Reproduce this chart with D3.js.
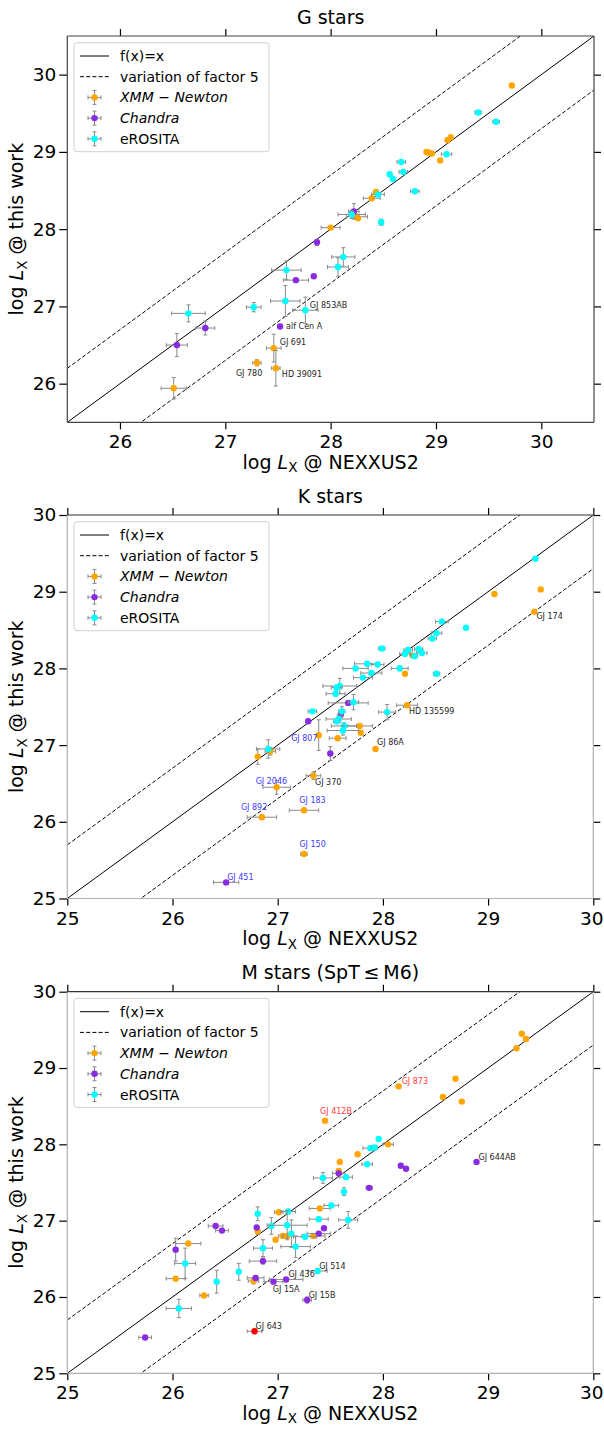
<!DOCTYPE html>
<html>
<head>
<meta charset="utf-8">
<script src="https://cdn.jsdelivr.net/npm/d3@7"></script>
<style>
body { margin: 0; background: #fff; }
svg { display: block; font-family: "DejaVu Sans", sans-serif; }
</style>
</head>
<body>
<svg id="chart" width="604" height="1430"></svg>
<script>
// each point: [log Lx NEXXUS2, log Lx this work, xerr, yerr]
const G_XMM = [
    [29.72, 29.86, 0, 0], [29.14, 29.19, 0, 0], [29.11, 29.15, 0, 0],
    [28.91, 29.00, 0, 0], [28.93, 28.99, 0, 0], [28.96, 28.98, 0, 0],
    [29.04, 28.89, 0, 0], [28.43, 28.48, 0, 0], [28.39, 28.40, 0.08, 0],
    [28.25, 28.16, 0.10, 0], [28.26, 28.14, 0, 0], [28.00, 28.02, 0.09, 0],
    [27.46, 26.46, 0.07, 0.18], [27.30, 26.27, 0.04, 0.04],
    [27.48, 26.20, 0.04, 0.23], [26.51, 25.94, 0.12, 0.14]
];
const G_CHANDRA = [
    [28.22, 28.23, 0.05, 0.10], [27.87, 27.83, 0, 0.04], [27.84, 27.39, 0, 0],
    [27.67, 27.34, 0.12, 0], [27.52, 26.74, 0, 0], [26.81, 26.72, 0.09, 0.09],
    [26.54, 26.50, 0.10, 0.15]
];
const G_EROSITA = [
    [29.40, 29.51, 0.03, 0.02], [29.57, 29.39, 0.03, 0.01], [29.10, 28.97, 0.05, 0.02],
    [28.67, 28.87, 0.04, 0.02], [28.69, 28.74, 0.04, 0.03], [28.56, 28.71, 0.02, 0.02],
    [28.59, 28.65, 0.02, 0.02], [28.80, 28.49, 0.04, 0.02], [28.45, 28.45, 0.06, 0.02],
    [28.20, 28.19, 0.13, 0.05], [28.48, 28.09, 0.02, 0.04], [28.12, 27.64, 0.11, 0.12],
    [28.07, 27.51, 0.10, 0.12], [27.58, 27.47, 0.14, 0.12], [27.57, 27.07, 0.14, 0.20],
    [27.76, 26.95, 0.12, 0.17], [27.27, 26.99, 0.07, 0.06], [26.65, 26.91, 0.16, 0.11]
];
const G_NOTES = [
    ["GJ 853AB", 27.76, 26.95], ["alf Cen A", 27.52, 26.74], ["GJ 691", 27.46, 26.46],
    ["GJ 780", 27.30, 26.27], ["HD 39091", 27.48, 26.20]
];

const K_XMM = [
    [29.06, 28.97, 0, 0], [29.50, 29.03, 0, 0], [29.44, 28.74, 0, 0],
    [28.28, 28.17, 0, 0], [28.21, 27.93, 0, 0], [28.23, 27.52, 0.10, 0],
    [27.78, 27.25, 0.12, 0], [27.79, 27.16, 0, 0], [27.39, 27.13, 0, 0.20],
    [27.57, 27.09, 0.08, 0], [27.93, 26.95, 0, 0], [26.81, 26.85, 0, 0.10],
    [26.93, 26.92, 0.05, 0.05], [27.34, 26.60, 0.07, 0.05], [26.99, 26.45, 0.13, 0.09],
    [26.85, 26.06, 0.14, 0.03], [27.25, 26.15, 0.14, 0], [27.25, 25.58, 0.03, 0.03]
];
const K_CHANDRA = [
    [27.67, 27.55, 0.19, 0], [27.60, 27.40, 0, 0.05], [27.29, 27.31, 0, 0],
    [27.50, 26.89, 0, 0.09], [26.51, 25.21, 0.12, 0]
];
const K_EROSITA = [
    [29.45, 29.43, 0, 0], [28.56, 28.61, 0.06, 0.02], [28.51, 28.46, 0.05, 0.02],
    [28.47, 28.39, 0.04, 0.03], [28.79, 28.53, 0, 0], [27.99, 28.26, 0.03, 0.02],
    [28.24, 28.24, 0.04, 0.03], [28.34, 28.25, 0.04, 0.02], [28.21, 28.19, 0.05, 0.03],
    [28.37, 28.20, 0.05, 0.02], [28.30, 28.16, 0.03, 0.02], [27.85, 28.06, 0.12, 0.02],
    [27.95, 28.05, 0.06, 0.02], [27.74, 28.00, 0.12, 0.02], [28.16, 28.00, 0.08, 0.03],
    [27.89, 27.94, 0.10, 0.02], [27.81, 27.88, 0.09, 0.02], [28.51, 27.93, 0.03, 0.03],
    [27.59, 27.77, 0.16, 0.10], [27.56, 27.75, 0.05, 0.03], [27.55, 27.67, 0.09, 0.03],
    [27.72, 27.56, 0.05, 0.10], [27.33, 27.44, 0.04, 0.02], [27.61, 27.44, 0.03, 0.06],
    [28.04, 27.43, 0.08, 0.10], [27.58, 27.34, 0.12, 0.05], [27.56, 27.31, 0.03, 0.03],
    [27.63, 27.25, 0.12, 0.04], [27.62, 27.19, 0.15, 0.06], [26.91, 26.95, 0.11, 0.12]
];
const K_NOTES = [
    ["GJ 174", 29.44, 28.74], ["HD 135599", 28.23, 27.52], ["GJ 86A", 27.93, 26.95],
    ["GJ 807", 27.39, 27.13], ["GJ 370", 27.34, 26.60], ["GJ 2046", 26.99, 26.45],
    ["GJ 892", 26.85, 26.06], ["GJ 183", 27.25, 26.15], ["GJ 150", 27.25, 25.58],
    ["GJ 451", 26.51, 25.21]
];

const M_XMM = [
    [29.32, 29.45, 0, 0], [29.36, 29.38, 0, 0], [29.27, 29.26, 0, 0],
    [28.15, 28.76, 0, 0], [28.69, 28.86, 0, 0], [28.57, 28.62, 0, 0],
    [28.75, 28.56, 0, 0], [27.45, 28.31, 0, 0], [28.05, 28.00, 0.05, 0],
    [27.76, 27.87, 0, 0], [27.59, 27.77, 0, 0], [27.58, 27.65, 0, 0],
    [27.40, 27.16, 0.10, 0], [27.01, 27.11, 0.04, 0], [26.81, 26.86, 0, 0.04],
    [27.05, 26.80, 0.04, 0], [27.09, 26.80, 0.04, 0], [26.98, 26.75, 0, 0],
    [27.34, 26.80, 0.11, 0], [26.15, 26.70, 0.12, 0], [26.03, 26.24, 0.09, 0],
    [26.77, 26.21, 0.05, 0.04], [26.30, 26.02, 0.04, 0]
];
const M_CHANDRA = [
    [27.58, 27.62, 0.06, 0], [28.17, 27.72, 0, 0], [28.22, 27.68, 0, 0],
    [27.87, 27.43, 0.03, 0], [28.89, 27.77, 0, 0], [26.41, 26.93, 0.07, 0],
    [26.47, 26.87, 0.06, 0], [26.80, 26.91, 0, 0], [27.44, 26.90, 0, 0],
    [27.39, 26.83, 0.11, 0], [26.03, 26.62, 0, 0.15], [26.86, 26.47, 0.13, 0.04],
    [26.79, 26.25, 0.08, 0], [27.08, 26.23, 0.16, 0], [26.96, 26.20, 0.09, 0],
    [27.28, 25.96, 0.04, 0.04], [25.74, 25.47, 0.06, 0]
];
const M_EROSITA = [
    [27.96, 28.07, 0, 0], [27.88, 27.95, 0.07, 0], [27.92, 27.96, 0.03, 0],
    [27.85, 27.74, 0.05, 0], [27.43, 27.56, 0.09, 0.07], [27.65, 27.57, 0.06, 0],
    [27.63, 27.38, 0, 0.05], [27.51, 27.20, 0.07, 0], [26.81, 27.09, 0, 0.09],
    [27.10, 27.12, 0.07, 0], [27.39, 27.02, 0.09, 0], [27.67, 27.01, 0.09, 0.11],
    [26.94, 26.93, 0, 0.11], [27.09, 26.94, 0.19, 0.19], [27.13, 26.83, 0, 0.18],
    [27.26, 26.79, 0.11, 0], [27.17, 26.66, 0.14, 0.14], [26.86, 26.64, 0.09, 0.11],
    [26.12, 26.44, 0.10, 0.20], [26.63, 26.33, 0, 0.11], [26.42, 26.20, 0, 0.15],
    [27.38, 26.34, 0.09, 0], [26.06, 25.85, 0.12, 0.12]
];
const M_OUTLIER = [[26.78, 25.55, 0.07, 0]];
const M_NOTES = [
    ["GJ 873", 28.15, 28.76], ["GJ 412B", 27.45, 28.31], ["GJ 644AB", 28.89, 27.77],
    ["GJ 514", 27.38, 26.34], ["GJ 436", 27.08, 26.23], ["GJ 15A", 26.96, 26.20],
    ["GJ 15B", 27.28, 25.96], ["GJ 643", 26.78, 25.55]
];

const G_TICKS = [26, 27, 28, 29, 30];
const KM_TICKS = [25, 26, 27, 28, 29, 30];
const FACTOR5 = Math.log10(5);

// styling / layout
const COLORS = {xmm: "#ffa500", chandra: "#8a2be2", erosita: "#00ffff", outlier: "#ff0000"};
const NOTE_COLOR = {
    "GJ 807": "#3b3bff", "GJ 2046": "#3b3bff", "GJ 892": "#3b3bff", "GJ 183": "#3b3bff",
    "GJ 150": "#3b3bff", "GJ 451": "#3b3bff", "GJ 873": "#ff3b3b", "GJ 412B": "#ff3b3b"
};
const NOTE_OFFSET = {
    "GJ 853AB": [4.5, -2], "alf Cen A": [6, 2.5], "GJ 691": [6, -3], "GJ 780": [-21, 13],
    "HD 39091": [6, 8.5], "GJ 174": [2, 7], "HD 135599": [2, 9], "GJ 86A": [1.5, -3.6],
    "GJ 807": [-27.6, 5.7], "GJ 370": [1.5, 9.3], "GJ 2046": [-21, -3], "GJ 892": [-21, -7],
    "GJ 183": [-4.7, -7], "GJ 150": [-4.6, -7], "GJ 451": [1, -2.7], "GJ 873": [3, -2.4],
    "GJ 412B": [-5, -7], "GJ 644AB": [2, -2], "GJ 514": [1.5, -2.4], "GJ 436": [2.3, -2],
    "GJ 15A": [-0.7, 10.3], "GJ 15B": [1.5, -2.3], "GJ 643": [1, -2]
};

const panels = [
    {id: "g", title: "G stars", domain: [25.5, 30.5], ticks: G_TICKS,
     left: 67.3, width: 526.7, top: 36, height: 386.3, spine: "#444", topSpine: "#444",
     series: [["xmm", G_XMM], ["chandra", G_CHANDRA], ["erosita", G_EROSITA]], notes: G_NOTES},
    {id: "k", title: "K stars", domain: [25, 30], ticks: KM_TICKS,
     left: 67.3, width: 526, top: 515, height: 383.5, spine: "#b0b0b0", topSpine: "#333",
     series: [["xmm", K_XMM], ["chandra", K_CHANDRA], ["erosita", K_EROSITA]], notes: K_NOTES},
    {id: "m", title: "M stars (SpT\u2009\u2264\u2009M6)", domain: [25, 30], ticks: KM_TICKS,
     left: 67.3, width: 526, top: 991.7, height: 381.6, spine: "#b0b0b0", topSpine: "#333",
     series: [["xmm", M_XMM], ["chandra", M_CHANDRA], ["erosita", M_EROSITA], ["outlier", M_OUTLIER]],
     notes: M_NOTES}
];

const svg = d3.select("#chart");
const ERR_COLOR = "#8a8a8a";
const CAP = 2;

function drawErrorPoint(g, cx, cy, xlo, xhi, ylo, yhi, color) {
    if (xhi - xlo > 0.5) {
        g.append("line").attr("x1", xlo).attr("x2", xhi).attr("y1", cy).attr("y2", cy)
            .attr("stroke", ERR_COLOR).attr("stroke-width", 1);
        [xlo, xhi].forEach(v => g.append("line").attr("x1", v).attr("x2", v)
            .attr("y1", cy - CAP).attr("y2", cy + CAP).attr("stroke", ERR_COLOR).attr("stroke-width", 1));
    }
    if (ylo - yhi > 0.5) {
        g.append("line").attr("x1", cx).attr("x2", cx).attr("y1", ylo).attr("y2", yhi)
            .attr("stroke", ERR_COLOR).attr("stroke-width", 1);
        [ylo, yhi].forEach(v => g.append("line").attr("y1", v).attr("y2", v)
            .attr("x1", cx - CAP).attr("x2", cx + CAP).attr("stroke", ERR_COLOR).attr("stroke-width", 1));
    }
    g.append("circle").attr("cx", cx).attr("cy", cy).attr("r", 3.2).attr("fill", color);
}

function drawPanel(p) {
    const x = d3.scaleLinear().domain(p.domain).range([p.left, p.left + p.width]);
    const y = d3.scaleLinear().domain(p.domain).range([p.top + p.height, p.top]);
    const bottom = p.top + p.height;
    const g = svg.append("g");

    svg.append("clipPath").attr("id", "clip-" + p.id)
        .append("rect").attr("x", p.left).attr("y", p.top).attr("width", p.width).attr("height", p.height);

    // reference lines
    const lines = g.append("g").attr("clip-path", `url(#clip-${p.id})`);
    const [d0, d1] = p.domain;
    [[0, null], [FACTOR5, "4,2.2"], [-FACTOR5, "4,2.2"]].forEach(([off, dash]) => {
        lines.append("line")
            .attr("x1", x(d0)).attr("y1", y(d0 + off))
            .attr("x2", x(d1)).attr("y2", y(d1 + off))
            .attr("stroke", "#000").attr("stroke-width", 1)
            .attr("stroke-dasharray", dash);
    });

    // data
    const pts = g.append("g");
    p.series.forEach(([key, data]) => {
        const sg = pts.append("g");
        data.forEach(d => {
            drawErrorPoint(sg, x(d[0]), y(d[1]), x(d[0] - d[2]), x(d[0] + d[2]),
                y(d[1] - d[3]), y(d[1] + d[3]), COLORS[key]);
        });
    });

    // annotations
    p.notes.forEach(([name, nx, ny]) => {
        const off = NOTE_OFFSET[name];
        g.append("text")
            .attr("x", x(nx) + off[0]).attr("y", y(ny) + off[1])
            .attr("font-size", 8).attr("fill", NOTE_COLOR[name] || "#262626")
            .text(name);
    });

    // axes
    const styleAxis = (sel) => {
        sel.select(".domain").remove();
        sel.selectAll(".tick line").attr("stroke", "#000").attr("stroke-width", 1.2);
        sel.selectAll(".tick text").attr("fill", "#000").attr("font-size", 18.5)
            .attr("font-family", "DejaVu Sans, sans-serif");
    };
    const xAxis = g.append("g").attr("transform", `translate(0,${bottom})`)
        .call(d3.axisBottom(x).tickValues(p.ticks).tickSize(7).tickPadding(6).tickFormat(d3.format("d")))
        .call(styleAxis);
    // keep the right-most label inside the page
    xAxis.selectAll(".tick text").filter(d => x(d) + 12 > 604).attr("dx", -2);
    g.append("g").attr("transform", `translate(${p.left},0)`)
        .call(d3.axisLeft(y).tickValues(p.ticks).tickSize(8).tickPadding(3).tickFormat(d3.format("d")))
        .call(styleAxis);
    g.append("g").attr("transform", `translate(0,${p.top})`)
        .call(d3.axisTop(x).tickValues(p.ticks).tickSize(7).tickFormat(""))
        .call(styleAxis);
    g.append("g").attr("transform", `translate(${p.left + p.width},0)`)
        .call(d3.axisRight(y).tickValues(p.ticks).tickSize(7).tickFormat(""))
        .call(styleAxis);

    // spines
    const sp = g.append("g").attr("fill", "none").attr("stroke-width", 1.2);
    sp.append("line").attr("x1", p.left).attr("x2", p.left).attr("y1", p.top).attr("y2", bottom).attr("stroke", p.spine);
    sp.append("line").attr("x1", p.left + p.width).attr("x2", p.left + p.width).attr("y1", p.top).attr("y2", bottom).attr("stroke", p.spine);
    sp.append("line").attr("x1", p.left).attr("x2", p.left + p.width).attr("y1", bottom).attr("y2", bottom).attr("stroke", p.spine);
    sp.append("line").attr("x1", p.left).attr("x2", p.left + p.width).attr("y1", p.top).attr("y2", p.top).attr("stroke", p.topSpine);

    // title and axis labels
    const cx = p.left + p.width / 2;
    g.append("text").attr("x", cx).attr("y", p.top - 12.5).attr("text-anchor", "middle")
        .attr("font-size", 19).text(p.title);

    const xl = g.append("text").attr("x", cx).attr("y", bottom + 46.5)
        .attr("text-anchor", "middle").attr("font-size", 19);
    xl.append("tspan").text("log ");
    xl.append("tspan").attr("font-style", "italic").text("L");
    xl.append("tspan").attr("font-size", 13.5).attr("dy", 3.5).text("X");
    xl.append("tspan").attr("dy", -3.5).text(" @ NEXXUS2");

    const yl = g.append("text").attr("transform", `translate(23,${p.top + p.height / 2}) rotate(-90)`)
        .attr("text-anchor", "middle").attr("font-size", 19);
    yl.append("tspan").text("log ");
    yl.append("tspan").attr("font-style", "italic").text("L");
    yl.append("tspan").attr("font-size", 13.5).attr("dy", 3.5).text("X");
    yl.append("tspan").attr("dy", -3.5).text(" @ this work");

    // legend
    const lg = g.append("g").attr("transform", `translate(74,${p.top + 6.7})`);
    lg.append("rect").attr("width", 195).attr("height", 109).attr("rx", 3)
        .attr("fill", "#fff").attr("fill-opacity", 0.8).attr("stroke", "#d0d0d0");
    const rows = [
        {label: "f(x)=x", kind: "line"},
        {label: "variation of factor 5", kind: "dash"},
        {label: "XMM \u2212 Newton", kind: "xmm", italic: true},
        {label: "Chandra", kind: "chandra", italic: true},
        {label: "eROSITA", kind: "erosita"}
    ];
    rows.forEach((r, i) => {
        const ry = 13.3 + i * 20.7;
        if (r.kind === "line" || r.kind === "dash") {
            lg.append("line").attr("x1", 6).attr("x2", 35).attr("y1", ry).attr("y2", ry)
                .attr("stroke", "#000").attr("stroke-width", 1)
                .attr("stroke-dasharray", r.kind === "dash" ? "4,2.2" : null);
        } else {
            drawErrorPoint(lg, 20.5, ry, 14, 27, ry + 7, ry - 7, COLORS[r.kind]);
        }
        lg.append("text").attr("x", 46).attr("y", ry).attr("dy", "0.36em")
            .attr("font-size", 14).attr("font-style", r.italic ? "italic" : null)
            .text(r.label);
    });
}

panels.forEach(drawPanel);
</script>
</body>
</html>
